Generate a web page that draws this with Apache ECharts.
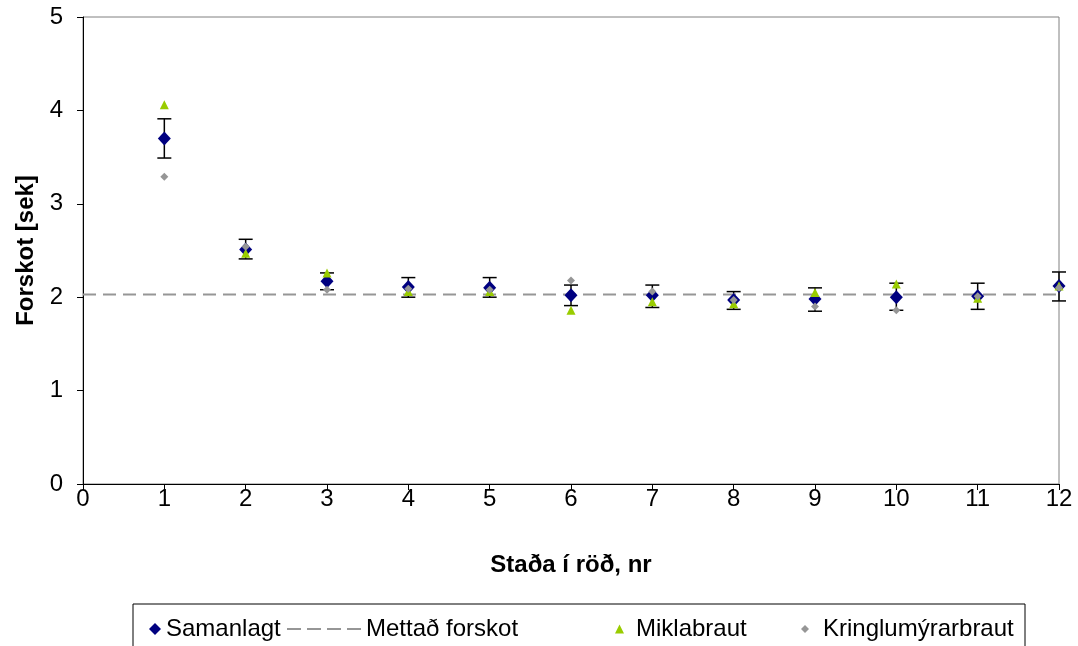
<!DOCTYPE html>
<html>
<head>
<meta charset="utf-8">
<script src="https://cdn.jsdelivr.net/npm/echarts@6/dist/echarts.min.js"></script>
<style>
  html, body { margin: 0; padding: 0; background: #fff; }
  #chart { width: 1078px; height: 646px; }
</style>
</head>
<body>
<div id="chart"></div>
<script>
const positions = [1, 2, 3, 4, 5, 6, 7, 8, 9, 10, 11, 12];
const samanlagt = [3.70, 2.51, 2.17, 2.11, 2.10, 2.02, 2.02, 1.97, 1.98, 2.00, 2.01, 2.12];
const errHigh = [3.91, 2.62, 2.26, 2.21, 2.21, 2.13, 2.13, 2.06, 2.10, 2.15, 2.15, 2.27];
const errLow = [3.49, 2.41, 2.08, 2.00, 2.00, 1.91, 1.89, 1.87, 1.85, 1.86, 1.87, 1.96];
const miklabraut = [4.06, 2.47, 2.26, 2.06, 2.06, 1.86, 1.95, 1.93, 2.05, 2.14, 1.99, 2.12];
const kringlumyrarbraut = [3.29, 2.54, 2.08, 2.09, 2.08, 2.18, 2.06, 1.97, 1.90, 1.86, 2.01, 2.10];
const mettad = 2.03;
const xRange = [0, 12];

const font = "'Liberation Sans', Arial, sans-serif";
const pairs = (ys) => positions.map((x, i) => [x, ys[i]]);

const chart = echarts.init(document.getElementById('chart'));

const legendText = (padLeft) => ({ fontFamily: font, fontSize: 24, color: '#000', padding: [0, 0, 0, padLeft] });
// four grey dashes for the legend entry of the dashed line
const dashIcon = 'path://M0,0h14v2h-14z M20,0h14v2h-14z M40,0h14v2h-14z M60,0h14v2h-14z';

const option = {
  animation: false,
  grid: {
    left: 83, right: 19, top: 17, bottom: 162,
    show: true, borderColor: '#808080', borderWidth: 1
  },
  graphic: [{
    type: 'rect',
    shape: { x: 133, y: 604, width: 892, height: 50 },
    style: { fill: 'none', stroke: '#000', lineWidth: 1 },
    silent: true
  }],
  legend: [
    { data: ['Samanlagt'], left: 144, top: 612, itemWidth: 12, itemHeight: 12, textStyle: legendText(0) },
    {
      data: [{ name: 'Mettað forskot', icon: dashIcon, itemStyle: { color: '#969696' } }],
      left: 282, top: 612, itemWidth: 74, itemHeight: 2, textStyle: legendText(0)
    },
    { data: ['Miklabraut'], left: 610, top: 612, itemWidth: 9, itemHeight: 9, textStyle: legendText(7) },
    { data: ['Kringlumýrarbraut'], left: 796, top: 612, itemWidth: 8, itemHeight: 8, textStyle: legendText(9) }
  ],
  xAxis: {
    type: 'value', min: 0, max: 12, interval: 1,
    name: 'Staða í röð, nr', nameLocation: 'middle', nameGap: 69,
    nameTextStyle: { fontFamily: font, fontSize: 24, fontWeight: 'bold', color: '#000' },
    axisLine: { lineStyle: { color: '#000' } },
    axisTick: { show: true, length: 6, lineStyle: { color: '#000' } },
    axisLabel: { fontFamily: font, fontSize: 24, color: '#000', margin: 3 },
    splitLine: { show: false }
  },
  yAxis: {
    type: 'value', min: 0, max: 5, interval: 1,
    name: 'Forskot [sek]', nameLocation: 'middle', nameGap: 40,
    nameTextStyle: { fontFamily: font, fontSize: 24, fontWeight: 'bold', color: '#000' },
    axisLine: { show: true, lineStyle: { color: '#000' } },
    axisTick: { show: true, length: 6, lineStyle: { color: '#000' } },
    axisLabel: { fontFamily: font, fontSize: 24, color: '#000', margin: 20 },
    splitLine: { show: false }
  },
  series: [
    {
      name: 'errors',
      type: 'custom',
      z: 1,
      data: positions.map((x, i) => [x, errLow[i], errHigh[i]]),
      renderItem: function (params, api) {
        const lo = api.coord([api.value(0), api.value(1)]);
        const hi = api.coord([api.value(0), api.value(2)]);
        const w = 7;
        const st = { stroke: '#000', lineWidth: 1.5 };
        return {
          type: 'group',
          children: [
            { type: 'line', shape: { x1: lo[0], y1: lo[1], x2: hi[0], y2: hi[1] }, style: st },
            { type: 'line', shape: { x1: hi[0] - w, y1: hi[1], x2: hi[0] + w, y2: hi[1] }, style: st },
            { type: 'line', shape: { x1: lo[0] - w, y1: lo[1], x2: lo[0] + w, y2: lo[1] }, style: st }
          ]
        };
      }
    },
    {
      name: 'Mettað forskot',
      type: 'line',
      z: 2,
      symbol: 'none',
      data: [[xRange[0], mettad], [xRange[1], mettad]],
      lineStyle: { color: '#969696', width: 2, type: [13, 7] },
      itemStyle: { color: '#969696' }
    },
    {
      name: 'Samanlagt',
      type: 'scatter',
      z: 3,
      symbol: 'diamond',
      symbolSize: [13, 14],
      data: pairs(samanlagt),
      itemStyle: { color: '#000080', opacity: 1 }
    },
    {
      name: 'Miklabraut',
      type: 'scatter',
      z: 4,
      symbol: 'triangle',
      symbolSize: 9,
      data: pairs(miklabraut),
      itemStyle: { color: '#99CC00', opacity: 1 }
    },
    {
      name: 'Kringlumýrarbraut',
      type: 'scatter',
      z: 5,
      symbol: 'diamond',
      symbolSize: 8,
      data: pairs(kringlumyrarbraut),
      itemStyle: { color: '#969696', opacity: 1 }
    }
  ]
};

chart.setOption(option);
</script>
</body>
</html>
